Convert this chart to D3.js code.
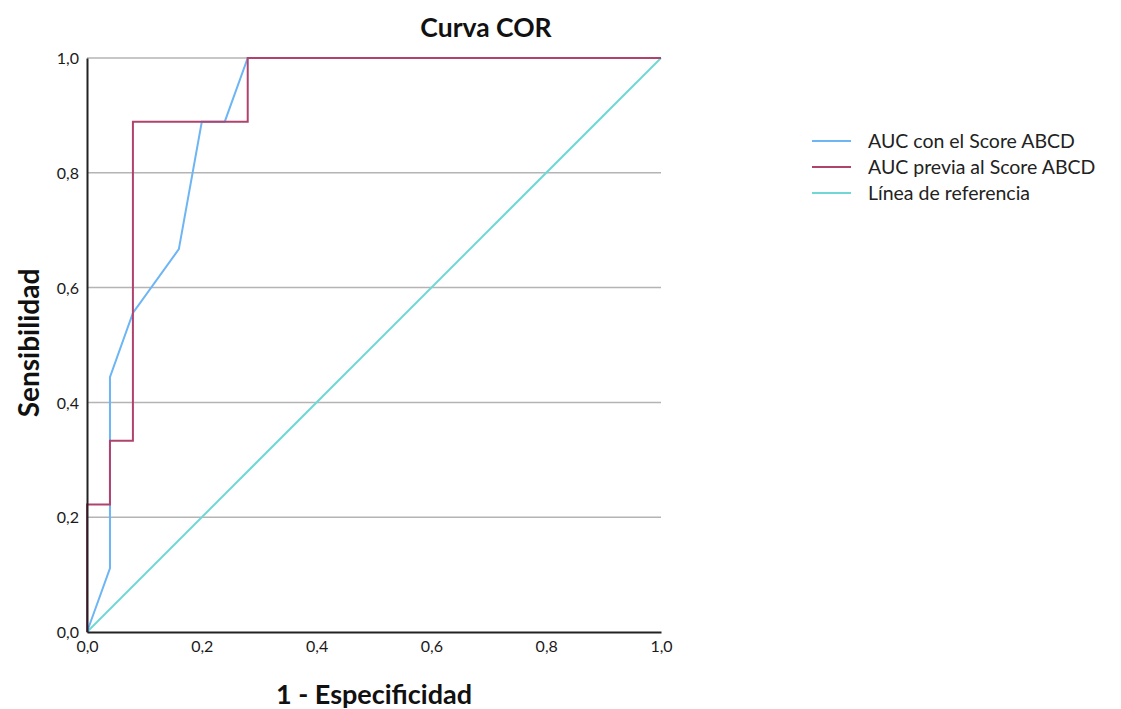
<!DOCTYPE html>
<html>
<head>
<meta charset="utf-8">
<script src="https://cdn.jsdelivr.net/npm/d3@7"></script>
<style>
  html, body { margin: 0; padding: 0; background: #fff; }
  svg { display: block; }
  text { font-family: Lato, "Open Sans", sans-serif; }
</style>
</head>
<body>
<svg id="chart" width="1121" height="709"></svg>
<script>
// ROC points: x = 1 - especificidad, y = sensibilidad
const conScoreX = [0, 0.04, 0.04, 0.08, 0.16, 0.20, 0.24, 0.28, 1];
const conScoreY = [0, 0.111, 0.444, 0.556, 0.667, 0.889, 0.889, 1, 1];

const previaX = [0, 0, 0.04, 0.04, 0.08, 0.08, 0.28, 0.28, 1];
const previaY = [0, 0.222, 0.222, 0.333, 0.333, 0.889, 0.889, 1, 1];

const referenciaX = [0, 1];
const referenciaY = [0, 1];

const tickValues = [0, 0.2, 0.4, 0.6, 0.8, 1.0];
const tickLabels = ["0,0", "0,2", "0,4", "0,6", "0,8", "1,0"];

const seriesNames = ["AUC con el Score ABCD", "AUC previa al Score ABCD", "Línea de referencia"];
const seriesColors = ["#6db5f5", "#b0436e", "#6fd8d6"];

const svg = d3.select("#chart");

const x = d3.scaleLinear().domain([0, 1]).range([87, 661]);
const y = d3.scaleLinear().domain([0, 1]).range([632, 58]);

// horizontal grid
svg.append("g")
  .selectAll("line")
  .data(tickValues.filter(v => v > 0))
  .join("line")
  .attr("x1", x(0)).attr("x2", x(1))
  .attr("y1", d => y(d)).attr("y2", d => y(d))
  .attr("stroke", "#b4b4b4")
  .attr("stroke-width", 1.5);

const line = d3.line().x(d => x(d[0])).y(d => y(d[1]));
const series = [
  d3.zip(referenciaX, referenciaY),
  d3.zip(conScoreX, conScoreY),
  d3.zip(previaX, previaY)
];
const colorIdx = [2, 0, 1];
series.forEach((pts, i) => {
  svg.append("path")
    .datum(pts)
    .attr("d", line)
    .attr("fill", "none")
    .attr("stroke", seriesColors[colorIdx[i]])
    .attr("stroke-width", 2);
});

// axes
const xAxis = d3.axisBottom(x).tickValues(tickValues)
  .tickFormat((d, i) => tickLabels[i]).tickSize(0).tickPadding(7);
const yAxis = d3.axisLeft(y).tickValues(tickValues)
  .tickFormat((d, i) => tickLabels[i]).tickSize(0).tickPadding(8);

const gx = svg.append("g").attr("transform", `translate(0,${y(0)})`).call(xAxis);
const gy = svg.append("g").attr("transform", `translate(${x(0)},0)`).call(yAxis);
[gx, gy].forEach(g => {
  g.select(".domain").attr("stroke", "#222").attr("stroke-width", 2);
  g.selectAll("text")
    .attr("font-size", 16)
    .attr("fill", "#1a1a1a")
    .style("font-family", "Lato, sans-serif");
});
gx.selectAll("text").attr("dy", "0.8em");
gy.selectAll("text").attr("dy", "0.35em");

// titles
const titleStyle = (sel, size) => sel
  .attr("text-anchor", "middle")
  .attr("font-size", size).attr("font-weight", "bold")
  .attr("fill", "#111");

svg.append("text").attr("x", 486).attr("y", 37).call(titleStyle, 26.5).text("Curva COR");
svg.append("text").attr("x", 374).attr("y", 704).call(titleStyle, 27).text("1 - Especificidad");
svg.append("text")
  .attr("transform", "translate(39,343) rotate(-90)")
  .call(titleStyle, 28).text("Sensibilidad");

// legend
const legend = svg.append("g").attr("transform", "translate(812,141)");
seriesNames.forEach((name, i) => {
  const g = legend.append("g").attr("transform", `translate(0,${i * 26})`);
  g.append("line")
    .attr("x1", 0).attr("x2", 39).attr("y1", 0).attr("y2", 0)
    .attr("stroke", seriesColors[i]).attr("stroke-width", 2);
  g.append("text")
    .attr("x", 56).attr("y", 0).attr("dy", "0.35em")
    .attr("font-size", 19.5).attr("fill", "#222")
    .text(name);
});
</script>
</body>
</html>
